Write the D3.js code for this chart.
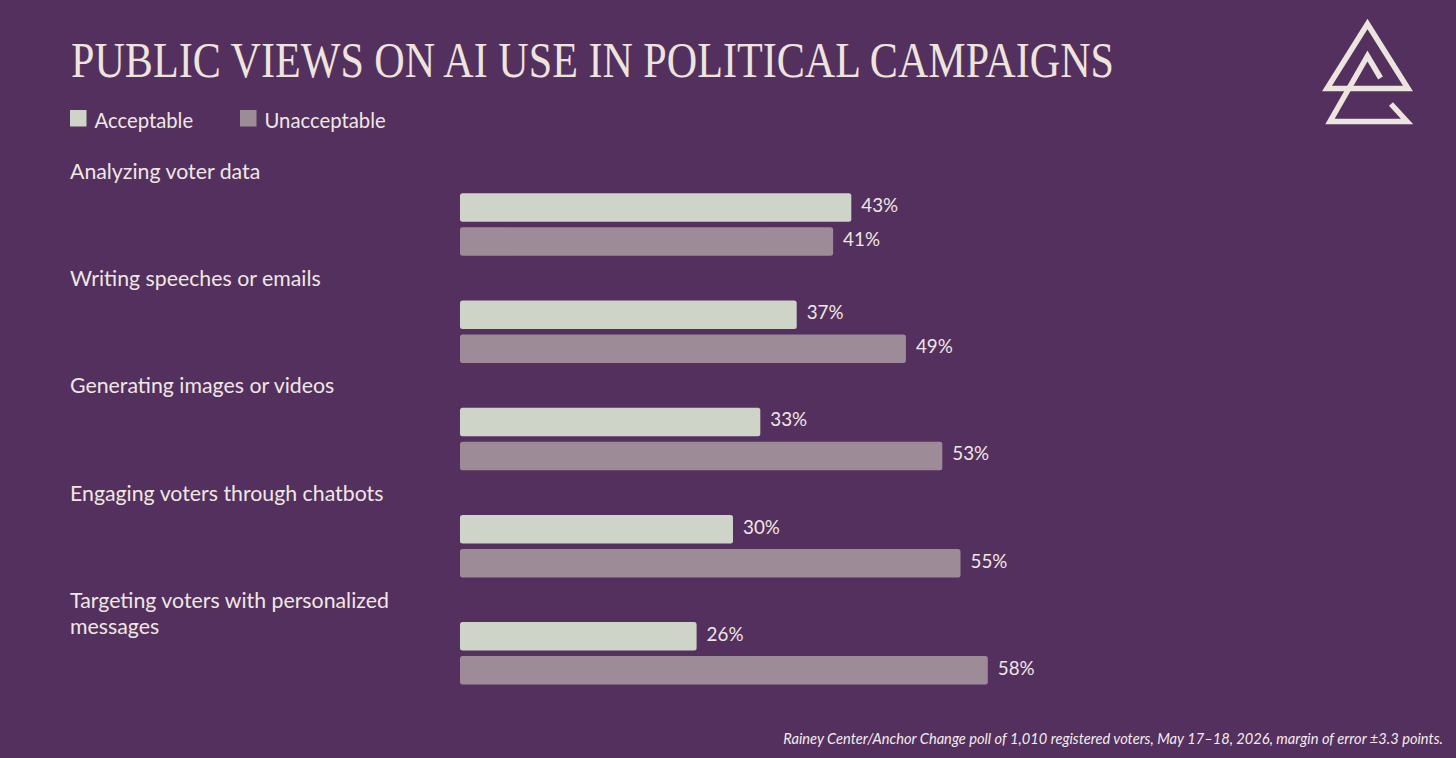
<!DOCTYPE html>
<html>
<head>
<meta charset="utf-8">
<script src="https://cdn.jsdelivr.net/npm/d3@7"></script>
<style>
  html, body { margin: 0; padding: 0; background: #54305e; }
  svg { display: block; }
</style>
</head>
<body>
<svg id="chart" width="1456" height="758"></svg>
<script>
const categories = [
  ["Analyzing voter data"],
  ["Writing speeches or emails"],
  ["Generating images or videos"],
  ["Engaging voters through chatbots"],
  ["Targeting voters with personalized", "messages"]
];
const acceptable = [43, 37, 33, 30, 26];
const unacceptable = [41, 49, 53, 55, 58];
const seriesNames = ["Acceptable", "Unacceptable"];
const title = "PUBLIC VIEWS ON AI USE IN POLITICAL CAMPAIGNS";
const note = "Rainey Center/Anchor Change poll of 1,010 registered voters, May 17\u201318, 2026, margin of error \u00b13.3 points.";

const W = 1456, H = 758;
const BG = "#54305e";
const TXT = "#efe7e3";
const colors = ["#ced4c8", "#9e8b98"];
const sans = "Lato, 'Open Sans', sans-serif";

const svg = d3.select("#chart");
svg.append("rect").attr("width", W).attr("height", H).attr("fill", BG);

// Title
svg.append("text")
  .attr("x", 71).attr("y", 76.5)
  .attr("font-family", "'Liberation Serif', 'DejaVu Serif', serif")
  .attr("font-size", 50)
  .attr("fill", "#ede4de")
  .attr("textLength", 1043)
  .attr("lengthAdjust", "spacingAndGlyphs")
  .text(title);

// Legend
const legendX = [70, 240];
seriesNames.forEach((name, i) => {
  const g = svg.append("g").attr("transform", `translate(${legendX[i]},110)`);
  g.append("rect").attr("width", 16.5).attr("height", 16.5).attr("fill", colors[i]);
  g.append("text").attr("x", 24.5).attr("y", 18.3)
    .attr("font-family", sans).attr("font-size", 20.3).attr("fill", TXT)
    .text(name);
});

// Scales
const x = d3.scaleLinear().domain([0, 60]).range([460, 460 + 546]);
const y = d3.scaleBand()
  .domain(categories.map((d, i) => i))
  .range([160, 160 + 5 * 107.2])
  .paddingInner(0).paddingOuter(0);

const barH = 28.5, barOff = 34, barTop = 33.3;

const groups = svg.selectAll("g.grp")
  .data(categories.map((c, i) => ({ label: c, vals: [acceptable[i], unacceptable[i]], i })))
  .join("g").attr("class", "grp")
  .attr("transform", d => `translate(0,${y(d.i)})`);

// Category labels
groups.append("text")
  .attr("x", 70).attr("y", 18.9)
  .attr("font-family", sans).attr("font-size", 21.3).attr("fill", TXT)
  .selectAll("tspan")
  .data(d => d.label)
  .join("tspan")
  .attr("x", 70)
  .attr("dy", (d, j) => j === 0 ? 0 : 26.5)
  .text(d => d);

// Bars
groups.selectAll("rect.bar")
  .data(d => d.vals.map((v, k) => ({ v, k })))
  .join("rect").attr("class", "bar")
  .attr("x", x(0))
  .attr("y", d => barTop + d.k * barOff)
  .attr("width", d => x(d.v) - x(0))
  .attr("height", barH)
  .attr("rx", 2.5)
  .attr("fill", d => colors[d.k]);

// Value labels
groups.selectAll("text.val")
  .data(d => d.vals.map((v, k) => ({ v, k })))
  .join("text").attr("class", "val")
  .attr("x", d => x(d.v) + 10)
  .attr("y", d => barTop + d.k * barOff + barH / 2 + 4.5)
  .attr("font-family", sans).attr("font-size", 18.8).attr("fill", TXT)
  .text(d => d.v + "%");

// Footnote
svg.append("text")
  .attr("x", 1443).attr("y", 744)
  .attr("text-anchor", "end")
  .attr("font-family", sans).attr("font-style", "italic")
  .attr("font-size", 14.65).attr("fill", "#f3ecea")
  .text(note);

// Logo
const logo = svg.append("g")
  .attr("fill", "none").attr("stroke", "#ece4de")
  .attr("stroke-width", 5.5).attr("stroke-linejoin", "miter");
logo.append("path").attr("d", "M1367.5,24 L1408,88.5 L1327,88.5 Z");
logo.append("path").attr("d", "M1380.5,78 L1367.5,56 L1330,121.5 L1407,121.5 L1391,104");
</script>
</body>
</html>
